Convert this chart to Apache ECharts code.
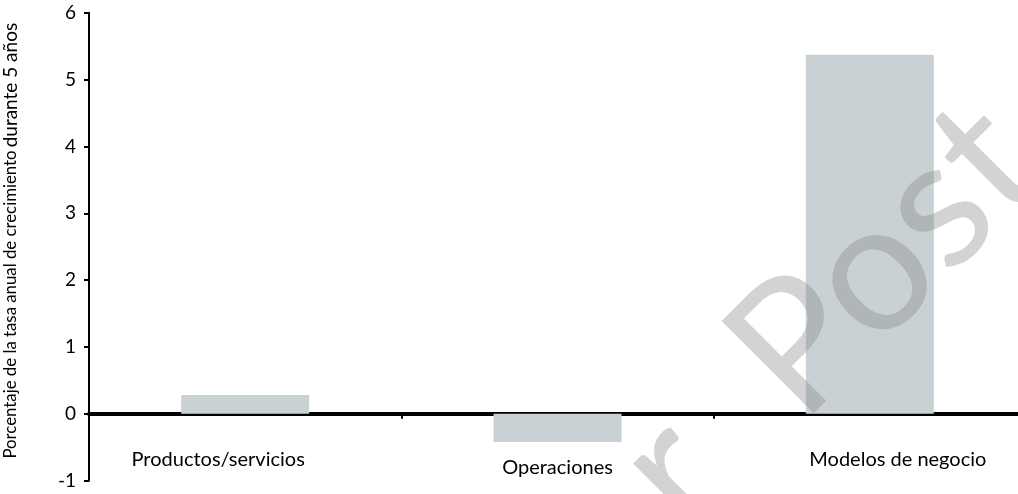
<!DOCTYPE html>
<html>
<head>
<meta charset="utf-8">
<script src="https://cdn.jsdelivr.net/npm/echarts@6/dist/echarts.min.js"></script>
<style>
html,body{margin:0;padding:0;background:#fff;}
#chart{width:1018px;height:494px;}
</style>
</head>
<body>
<div id="chart"></div>
<script>
const categories = ['Productos/servicios', 'Operaciones', 'Modelos de negocio'];
const values = [0.28, -0.42, 5.37];
const yTicks = { min: -1, max: 6, interval: 1 };
const yTitleA = 'Porcentaje de la tasa anual de crecimiento';
const yTitleB = 'durante 5 años';
const watermark = 'or  Post';

const labelKeys = { 'Productos/servicios': 'p', 'Operaciones': 'o', 'Modelos de negocio': 'm' };
const FONT = 'Lato, "Open Sans", sans-serif';

const chart = echarts.init(document.getElementById('chart'), null, { renderer: 'canvas' });
chart.setOption({
  animation: false,
  backgroundColor: '#ffffff',
  grid: { left: 89, right: -8, top: 12.7, bottom: 13.3, containLabel: false, outerBoundsMode: 'none' },
  xAxis: {
    type: 'category',
    data: categories,
    axisLine: { onZero: true, lineStyle: { color: '#000', width: 4 } },
    axisTick: { show: true, length: 5, lineStyle: { color: '#000', width: 2 } },
    axisLabel: {
      margin: -31,
      fontFamily: FONT,
      fontSize: 20,
      color: '#000',
      formatter: v => '{' + labelKeys[v] + '|' + v + '}',
      rich: {
        p: { fontFamily: FONT, fontSize: 20, color: '#000', padding: [0, 54, 0, 0] },
        o: { fontFamily: FONT, fontSize: 20, color: '#000', padding: [8, 0, 0, 0] },
        m: { fontFamily: FONT, fontSize: 20, color: '#000', padding: [0, 0, 0, 56] }
      }
    },
    splitLine: { show: false }
  },
  yAxis: {
    type: 'value',
    min: yTicks.min,
    max: yTicks.max,
    interval: yTicks.interval,
    name: '{a|' + yTitleA + '} {b|' + yTitleB + '}',
    nameLocation: 'middle',
    nameGap: 69,
    nameRotate: 90,
    nameTextStyle: {
      fontFamily: FONT,
      color: '#000',
      padding: [0, 0, 0, 12],
      rich: {
        a: { fontFamily: FONT, fontSize: 16.8, color: '#000' },
        b: { fontFamily: FONT, fontSize: 19, color: '#000' }
      }
    },
    axisLine: { show: true, lineStyle: { color: '#000', width: 2 } },
    axisTick: { show: true, length: 5, lineStyle: { color: '#000', width: 2 } },
    axisLabel: { fontFamily: FONT, fontSize: 19, color: '#000', margin: 13 },
    splitLine: { show: false }
  },
  series: [{
    type: 'bar',
    data: values,
    barWidth: 128,
    itemStyle: { color: '#c9d1d5' },
    z: 1
  }],
  graphic: [{
    type: 'text',
    x: 792,
    y: 352,
    rotation: Math.PI / 4,
    z: 100,
    silent: true,
    style: {
      text: watermark,
      fontFamily: FONT,
      fontSize: 182,
      fill: 'rgba(128,128,128,0.35)',
      textAlign: 'center',
      textVerticalAlign: 'middle'
    }
  }]
});
</script>
</body>
</html>
